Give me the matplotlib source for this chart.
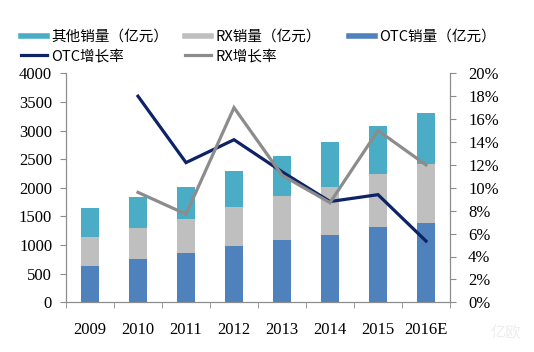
import matplotlib
matplotlib.use('Agg')
import matplotlib.pyplot as plt
from matplotlib.lines import Line2D
import numpy as np

years = ['2009', '2010', '2011', '2012', '2013', '2014', '2015', '2016E']
otc_sales = [640, 765, 863, 984, 1089, 1182, 1315, 1379]
rx_sales = [496, 533, 586, 679, 760, 828, 934, 1043]
other_sales = [509, 545, 573, 638, 701, 795, 829, 887]
otc_growth = [None, 18.0, 12.2, 14.2, 11.4, 8.8, 9.4, 5.35]
rx_growth = [None, 9.6, 7.7, 17.0, 11.1, 8.7, 15.0, 12.0]

c_other = '#4BACC6'
c_rx = '#BFBFBF'
c_otc = '#4F81BD'
c_otc_line = '#0D2366'
c_rx_line = '#8C8C8C'
axis_color = '#8C8C8C'

cjk = ['Noto Sans CJK SC', 'DejaVu Sans']
serif = 'Liberation Serif'

fig = plt.figure(figsize=(5.34, 3.52), dpi=100)
ax = fig.add_axes([66 / 534, 1 - 302.3 / 352, 384 / 534, 229 / 352])
ax2 = ax.twinx()

x = np.arange(len(years))
w = 0.385
otc = np.array(otc_sales)
rx = np.array(rx_sales)
oth = np.array(other_sales)
ax.bar(x, otc, w, color=c_otc, zorder=2)
ax.bar(x, rx, w, bottom=otc, color=c_rx, zorder=2)
ax.bar(x, oth, w, bottom=otc + rx, color=c_other, zorder=2)

ax2.plot(x[1:], otc_growth[1:], color=c_otc_line, lw=2.3, solid_joinstyle='miter')
ax2.plot(x[1:], rx_growth[1:], color=c_rx_line, lw=2.3, solid_joinstyle='miter')

ax.set_xlim(-0.5, 7.5)
ax.set_ylim(0, 4000)
ax.set_yticks(range(0, 4001, 500))
ax2.set_ylim(0, 20)
ax2.set_yticks(range(0, 21, 2))
ax2.set_yticklabels(['%d%%' % v for v in range(0, 21, 2)])

ax.set_xticks(x)
ax.set_xticklabels(years)
ax.set_xticks(np.arange(-0.5, 8, 1), minor=True)
ax.tick_params(axis='x', which='major', length=0, pad=14)
ax.tick_params(axis='x', which='minor', length=4, color=axis_color, direction='out')
ax.tick_params(axis='y', length=4, color=axis_color, pad=6)
ax2.tick_params(axis='y', length=4, color=axis_color, pad=9)

for a in (ax, ax2):
    a.spines['top'].set_visible(False)
    for s in ('left', 'right', 'bottom'):
        a.spines[s].set_color(axis_color)
    for lab in a.get_xticklabels() + a.get_yticklabels():
        lab.set_fontfamily(serif)
        lab.set_fontsize(12)

# legend in three columns placed by hand
kw = dict(frameon=False, prop={'family': cjk, 'size': 10.5}, handlelength=1.8,
          handletextpad=0.3, labelspacing=0.35, borderaxespad=0, borderpad=0)
h1 = [Line2D([], [], color=c_other, lw=4), Line2D([], [], color=c_otc_line, lw=2.3)]
h2 = [Line2D([], [], color=c_rx, lw=4), Line2D([], [], color=c_rx_line, lw=2.3)]
h3 = [Line2D([], [], color=c_otc, lw=4)]
top = 1 - 30 / 352
fig.legend(h1, ['其他销量（亿元）', 'OTC增长率'], loc='upper left',
           bbox_to_anchor=(21 / 534, top), **kw)
fig.legend(h2, ['RX销量（亿元）', 'RX增长率'], loc='upper left',
           bbox_to_anchor=(185 / 534, top), **kw)
fig.legend(h3, ['OTC销量（亿元）'], loc='upper left',
           bbox_to_anchor=(349 / 534, top), **kw)

fig.text(0.975, 0.03, '亿欧', family=cjk, fontsize=11, color='#EDEDED',
         ha='right', va='bottom')

fig.savefig('out.png', dpi=100)
